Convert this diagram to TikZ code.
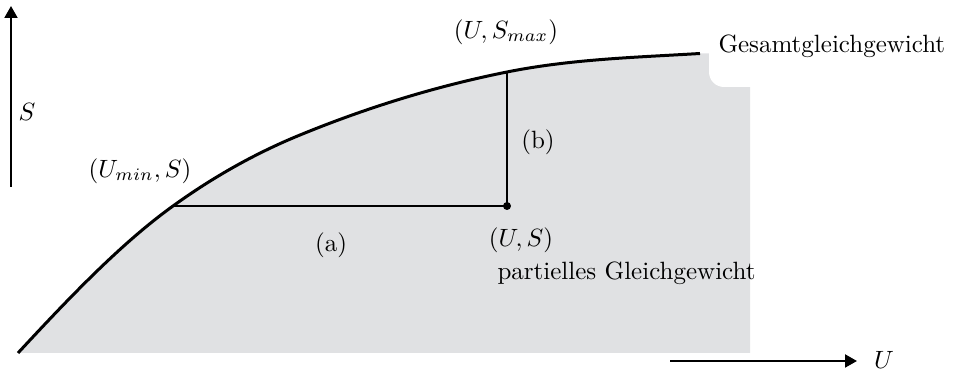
\documentclass[tikz,border=0pt]{standalone}
\usetikzlibrary{arrows.meta}
\definecolor{regiongray}{RGB}{224,225,227}
\tikzset{
  axisline/.style={line width=0.8pt,-{Triangle[length=4.8pt,width=5.2pt]}},
  curveline/.style={line width=1.2pt},
  thinline/.style={line width=0.6pt},
  lbl/.style={inner sep=0pt}
}
\newcommand{\entropycurve}{(c0) .. controls (69.7,297.2) and (121.3,243.2) .. (pa)
  .. controls (215.3,175.5) and (257.7,152.3) .. (300,135)
  .. controls (369,106.7) and (438,85.8) .. (pb)
  .. controls (571.3,59.1) and (635.7,57.4) .. (c3)}
\begin{document}
\begin{tikzpicture}[x=0.4pt,y=-0.4pt]
\useasboundingbox (0,0) rectangle (955,371);
% key points
\coordinate (c0) at (18,353);
\coordinate (pa) at (173,206);
\coordinate (c3) at (700,53.5);
\coordinate (pu) at (507,206);
\coordinate (pb) at (507,72);
% grey region
\fill[regiongray] \entropycurve -- (750,53.5) -- (750,353) -- cycle;
% white background of the label
\fill[white,rounded corners=6pt] (709,10) rectangle (960,87);
% curve
\draw[curveline] \entropycurve;
% construction lines
\draw[thinline] (pa) -- (pu);
\draw[thinline] (pu) -- (pb);
\fill (pu) circle (4);
% axes
\coordinate (sy0) at (11,187);
\coordinate (sy1) at (11,6);
\draw[axisline] (sy0) -- (sy1);
\coordinate (ux0) at (670,361);
\coordinate (ux1) at (857,361);
\draw[axisline] (ux0) -- (ux1);
% labels
\node[lbl] (lS) at (27,112) {$S$};
\node[lbl] (lU) at (884,360) {$U$};
\node[lbl] (lsmax) at (506,32) {$(U,S_{max})$};
\node[lbl] (lumin) at (140,171) {$(U_{min},S)$};
\node[lbl] (lus) at (521,240) {$(U,S)$};
\node[lbl,anchor=base west] (lpart) at (497,280) {partielles Gleichgewicht};
\node[lbl,anchor=base west] (lges) at (718,53) {Gesamtgleichgewicht};
\node[lbl] (lb) at (538,142) {(b)};
\node[lbl] (la) at (331,245) {(a)};
\end{tikzpicture}
\end{document}
